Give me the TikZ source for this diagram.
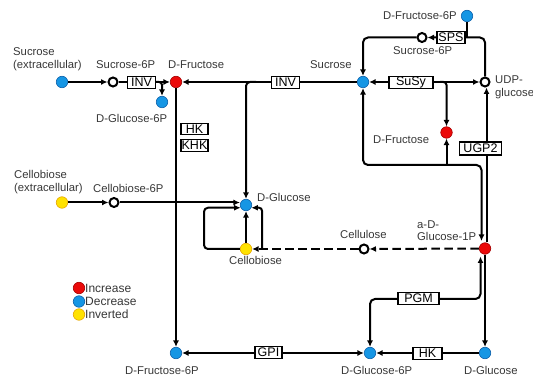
\documentclass[tikz,border=0pt]{standalone}
\usepackage{fontspec}
\setmainfont{Liberation Sans}
\usetikzlibrary{arrows.meta}
\definecolor{cblue}{RGB}{22,150,228}
\definecolor{cblueR}{RGB}{10,95,170}
\definecolor{cred}{RGB}{235,10,10}
\definecolor{credR}{RGB}{165,0,0}
\definecolor{cyel}{RGB}{255,226,0}
\definecolor{cyelR}{RGB}{230,165,0}
\definecolor{lbl}{RGB}{55,55,55}
\begin{document}
\begin{tikzpicture}[x=1pt,y=-1pt,
  dotb/.style={circle,inner sep=0,minimum size=11.5pt,fill=cblue,draw=cblueR,line width=0.6pt},
  dotr/.style={circle,inner sep=0,minimum size=11.5pt,fill=cred,draw=credR,line width=0.6pt},
  doty/.style={circle,inner sep=0,minimum size=11.5pt,fill=cyel,draw=cyelR,line width=0.6pt},
  opn/.style={circle,inner sep=0,minimum size=9pt,fill=white,draw=black,line width=2pt},
  enz/.style={draw=black,line width=1.3pt,fill=white,inner sep=0,minimum height=11.5pt,font=\fontsize{12.5}{13}\selectfont},
  lab/.style={text=lbl,font=\fontsize{11.3}{12.6}\selectfont,inner sep=0,anchor=west,align=left},
  leg/.style={text=lbl,font=\fontsize{12}{13}\selectfont,inner sep=0,anchor=west},
  conn/.style={line width=2pt},
  arr/.style={-{Latex[length=6.5pt,width=6pt]}},
  darr/.style={{Latex[length=6.5pt,width=6pt]}-{Latex[length=6.5pt,width=6pt]}},
  dsh/.style={dash pattern=on 8.5pt off 4.5pt}
]
\useasboundingbox (0,0) rectangle (533,379);

% ---- metabolite nodes ----
\node[dotb] (sucext) at (62,82) {};
\node[opn]  (suc6p)  at (113,82) {};
\node[dotb] (glc6ps) at (162,102) {};
\node[dotr] (dfru1)  at (176,82) {};
\node[dotb] (suc)    at (363,82) {};
\node[opn]  (udp)    at (485,82) {};
\node[dotb] (dfru6pt) at (467,16) {};
\node[opn]  (suc6pt) at (422,37.5) {};
\node[dotr] (dfru2)  at (446.5,132.5) {};
\node[doty] (cbext)  at (62,202.5) {};
\node[opn]  (cb6p)   at (114,202.5) {};
\node[dotb] (glc)    at (246,205) {};
\node[doty] (cb)     at (246,249) {};
\node[opn]  (cellu)  at (364,249) {};
\node[dotr] (aglc)   at (485,248.5) {};
\node[dotb] (dfru6p) at (176,353) {};
\node[dotb] (glc6p)  at (370,353) {};
\node[dotb] (glcb)   at (485,353) {};

\coordinate (topin) at (481.5,241);
\coordinate (pgmtip) at (480.5,256.5);

% ---- labels ----
\node[lab] at (13,59) {Sucrose\\(extracellular)};
\node[lab] at (96,65) {Sucrose-6P};
\node[lab] at (168,65) {D-Fructose};
\node[lab] at (96,118) {D-Glucose-6P};
\node[lab] at (310,65) {Sucrose};
\node[lab] at (383,15.5) {D-Fructose-6P};
\node[lab] at (393,51) {Sucrose-6P};
\node[lab] at (495,87) {UDP-\\glucose};
\node[lab] at (373,139.5) {D-Fructose};
\node[lab] at (14,182) {Cellobiose\\(extracellular)};
\node[lab] at (93,188) {Cellobiose-6P};
\node[lab] at (257,197.5) {D-Glucose};
\node[lab] at (229,260.5) {Cellobiose};
\node[lab] at (340,234) {Cellulose};
\node[lab] at (417,230.5) {a-D-\\Glucose-1P};
\node[lab] at (125,371) {D-Fructose-6P};
\node[lab] at (341,370.5) {D-Glucose-6P};
\node[lab] at (464,370.5) {D-Glucose};

% ---- legend ----
\node[dotr] (l1) at (79,288) {};
\node[dotb] (l2) at (79,301.5) {};
\node[doty] (l3) at (79,314.5) {};
\node[leg] at (85,288) {Increase};
\node[leg] at (85,301.5) {Decrease};
\node[leg] at (85,314.5) {Inverted};

% ---- connectors ----
\draw[conn,arr] (sucext) -- (suc6p);
\draw[conn,arr] (suc6p) -- (dfru1);
\draw[conn,arr,rounded corners=3pt] (156,82) -| (glc6ps);
\draw[conn,arr] (suc) -- (dfru1);
\draw[conn,arr,rounded corners=4pt] (256,82) -| (glc);
\draw[conn,arr] (dfru1) -- (dfru6p);
\draw[conn,arr] (cbext) -- (cb6p);
\draw[conn,arr] (cb6p) -- (glc.west|-cb6p);
\draw[conn,arr] (cb) -- (glc);
\draw[conn,arr,rounded corners=4pt] (cb.west) -- (204,249) |- (glc.207);
\draw[conn,arr,rounded corners=3pt] (262,249) |- (glc.-27);
\draw[conn,dsh,arr] (aglc) -- (cellu);
\draw[conn,dsh,arr] (cellu) -- (cb);
\draw[conn,darr] (suc) -- (udp);
\draw[conn,arr,rounded corners=3pt] (440,82) -| (dfru2);
\draw[conn,darr,rounded corners=5pt] (suc) -- (363,165) -| (topin);
\draw[conn,arr] (446.5,165) -- (dfru2);
\draw[conn,arr] ([xshift=1.5pt]aglc.north) -- ([xshift=1.5pt]udp.south);
\draw[conn,arr,rounded corners=5pt] (udp) |- (suc6pt);
\draw[conn] (dfru6pt) -- (467,37.5);
\draw[conn,arr,rounded corners=5pt] (suc6pt) -| (suc);
\draw[conn,arr] (aglc) -- (glcb);
\draw[conn,arr] (glcb) -- (glc6p);
\draw[conn,darr] (dfru6p) -- (glc6p);
\draw[conn,darr,rounded corners=5pt] (glc6p) -- (370,299) -| (pgmtip);

% ---- enzyme boxes ----
\node[enz,minimum width=28pt] (inv1) at (141.5,82.5) {INV};
\node[enz,minimum width=27.5pt] (inv2) at (285.5,82.5) {INV};
\node[enz,minimum width=27pt] (hk1) at (194.5,129) {HK};
\node[enz,minimum width=27pt] (khk) at (194.5,145.5) {KHK};
\node[enz,minimum width=44pt] (susy) at (411,82.5) {SuSy};
\node[enz,minimum width=28pt] (sps) at (451,37.5) {SPS};
\node[enz,minimum width=42pt,minimum height=13pt] (ugp) at (480.5,148.5) {UGP2};
\node[enz,minimum width=41pt] (pgm) at (418.5,298.5) {PGM};
\node[enz,minimum width=27pt] (gpi) at (268.5,352.5) {GPI};
\node[enz,minimum width=29pt] (hk2) at (427.5,353.5) {HK};
\end{tikzpicture}
\end{document}
